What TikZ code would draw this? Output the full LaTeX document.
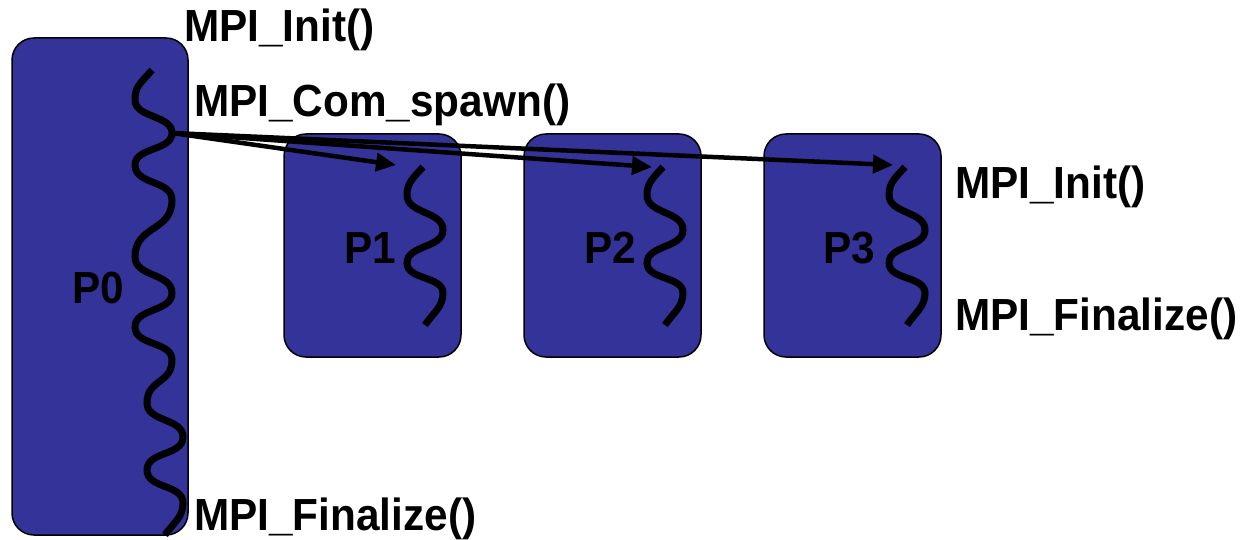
\documentclass[tikz,border=0pt]{standalone}
\usepackage{fontspec}
\setmainfont{Liberation Sans}[FakeStretch=0.94]
\usetikzlibrary{arrows.meta}
\definecolor{procblue}{RGB}{51,51,153}
\begin{document}
\begin{tikzpicture}[x=1pt,y=-1pt,
  proc/.style={draw=black, line width=1.5pt, fill=procblue, rounded corners=22pt, inner sep=0pt},
  thread/.style={line width=7pt},
  spawnarrow/.style={line width=4.5pt, -{Triangle[length=20pt,width=18pt]}},
  lbl/.style={font=\fontsize{45}{52}\selectfont\bfseries, inner sep=0pt, anchor=base west},
  childthread/.pic={
    \draw[thread] (0,0) .. controls +(-10,11) and +(0,-12) .. (-16,28)
      .. controls +(0,19) and +(0,-19) .. (20,63)
      .. controls +(0,18) and +(0,-18) .. (-16,96)
      .. controls +(0,17) and +(0,-17) .. (20,126)
      .. controls +(0,14) and +(8,-12) .. (2,158);
  },
]
\useasboundingbox (0,0) rectangle (1252,540);

% process boxes
\node[proc, minimum width=176pt, minimum height=497pt] (p0) at (100,286.5) {};
\node[proc, minimum width=177pt, minimum height=223pt] (p1) at (372.5,245.5) {};
\node[proc, minimum width=177pt, minimum height=223pt] (p2) at (612.5,245.5) {};
\node[proc, minimum width=177pt, minimum height=223pt] (p3) at (852.5,245.5) {};

% main thread of P0
\draw[thread] (152,70) .. controls +(-12,14) and +(0,-14) .. (135,100)
  .. controls +(0,18) and +(0,-18) .. (172,133)
  .. controls +(0,18) and +(0,-18) .. (135,165)
  .. controls +(0,20) and +(0,-20) .. (172,200)
  .. controls +(0,32) and +(0,-32) .. (135,257)
  .. controls +(0,20) and +(0,-20) .. (172,293)
  .. controls +(0,19) and +(0,-19) .. (135,327)
  .. controls +(0,19) and +(0,-19) .. (172,360)
  .. controls +(0,24) and +(0,-24) .. (147,403)
  .. controls +(0,19) and +(0,-19) .. (183,437)
  .. controls +(0,19) and +(0,-19) .. (147,470)
  .. controls +(0,19) and +(0,-19) .. (183,503)
  .. controls +(0,14) and +(10,-14) .. (165,535);

% spawned threads
\pic at (423,167) {childthread};
\pic at (663,167) {childthread};
\pic at (905,167) {childthread};

% spawn arrows
\coordinate (fork) at (172,133);
\coordinate (t1) at (396,165);
\coordinate (t2) at (652,167);
\coordinate (t3) at (893,165);
\draw[spawnarrow] (fork) -- (t1);
\draw[spawnarrow] (fork) -- (t2);
\draw[spawnarrow] (fork) -- (t3);

% process names
\node[lbl] (n0) at (72,303) {P0};
\node[lbl] (n1) at (344,263) {P1};
\node[lbl] (n2) at (584,263) {P2};
\node[lbl] (n3) at (823,263) {P3};

% MPI calls
\node[lbl] (init0) at (184,42) {MPI\_Init()};
\node[lbl] (spawn) at (194,117) {MPI\_Com\_spawn()};
\node[lbl] (fin0) at (194,530) {MPI\_Finalize()};
\node[lbl] (initc) at (955,198) {MPI\_Init()};
\node[lbl] (finc) at (955,330) {MPI\_Finalize()};
\end{tikzpicture}
\end{document}
